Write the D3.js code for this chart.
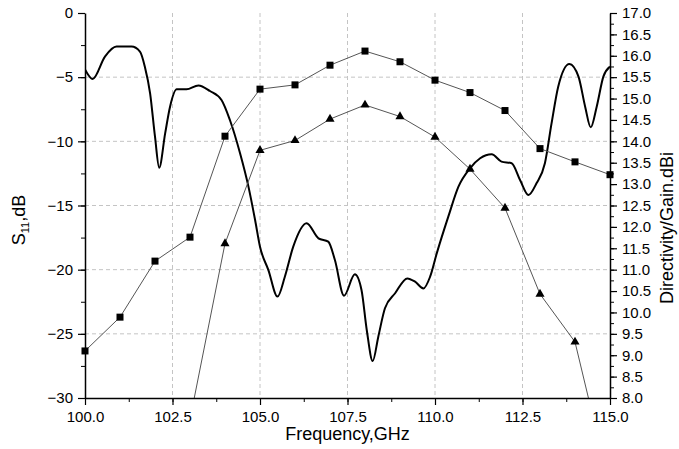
<!DOCTYPE html>
<html>
<head>
<meta charset="utf-8">
<script src="https://cdn.jsdelivr.net/npm/d3@7"></script>
<style>
  body { margin: 0; background: #fff; }
  svg { font-family: "Liberation Sans", Arial, sans-serif; }
</style>
</head>
<body>
<svg width="679" height="449"></svg>
<script>
// S11 curve (freq GHz, dB)
var s11Freq = [100.0, 100.22, 100.57, 100.9, 101.33, 101.57, 101.71, 101.86, 102.0, 102.12, 102.29, 102.43, 102.62, 102.9, 103.24, 103.57,
  103.9, 104.14, 104.43, 104.67, 104.86, 105.0, 105.24, 105.5, 105.71, 105.95, 106.33, 106.67, 106.95, 107.14, 107.4, 107.71, 107.9,
  108.05, 108.22, 108.38, 108.57, 108.86, 109.21, 109.43, 109.67, 109.86, 110.05, 110.38, 110.67, 111.0, 111.29, 111.62, 111.9, 112.19,
  112.43, 112.67, 112.9, 113.14, 113.33, 113.52, 113.84, 114.1, 114.29, 114.45, 114.62, 114.81, 115.0];
var s11Db = [-4.4, -5.14, -3.4, -2.62, -2.62, -3.01, -4.18, -6.26, -9.64, -12.05, -9.38, -7.3, -5.95, -5.95, -5.64, -6.08,
  -6.78, -8.34, -10.93, -13.53, -16.13, -18.21, -20.03, -22.1, -20.55, -18.21, -16.39, -17.56, -17.82, -19.25, -22.03, -20.36, -21.58,
  -24.7, -27.12, -25.22, -23.01, -21.84, -20.68, -20.94, -21.46, -20.55, -18.73, -15.87, -13.53, -12.1, -11.32, -11.01, -11.58, -11.71,
  -13.01, -14.18, -13.27, -11.71, -8.6, -5.74, -3.97, -4.96, -7.3, -8.91, -7.3, -4.96, -4.18];

// directivity (squares) and gain (triangles), dBi, right axis
var gainFreq = [100, 101, 102, 103, 104, 105, 106, 107, 108, 109, 110, 111, 112, 113, 114, 115];
var directivity = [9.1, 9.89, 11.2, 11.76, 14.12, 15.22, 15.32, 15.78, 16.11, 15.86, 15.43, 15.14, 14.72, 13.83, 13.52, 13.22];
var gainFreqT = [103, 104, 105, 106, 107, 108, 109, 110, 111, 112, 113, 114, 115];
var gain = [7.5, 11.61, 13.79, 14.02, 14.52, 14.85, 14.58, 14.1, 13.35, 12.44, 10.43, 9.31, 5.9];

var xTicks = [100, 102.5, 105, 107.5, 110, 112.5, 115];
var yLeftTicks = [0, -5, -10, -15, -20, -25, -30];
var yRightTicks = d3.range(8, 17.01, 0.5);

var svg = d3.select("svg"),
    L = 85, R = 610, T = 13, B = 398;

var x = d3.scaleLinear().domain([100, 115]).range([L, R]);
var yL = d3.scaleLinear().domain([-30, 0]).range([B, T]);
var yR = d3.scaleLinear().domain([8, 17]).range([B, T]);

svg.append("clipPath").attr("id", "plot")
  .append("rect").attr("x", L).attr("y", T).attr("width", R - L).attr("height", B - T);

// grid
var grid = svg.append("g").attr("stroke", "#c4c4c4").attr("stroke-dasharray", "4,3").attr("stroke-width", 1);
[102.5, 105, 107.5, 110, 112.5].forEach(function(v) {
  grid.append("line").attr("x1", x(v)).attr("x2", x(v)).attr("y1", T).attr("y2", B);
});
[-5, -10, -15, -20, -25].forEach(function(v) {
  grid.append("line").attr("x1", L).attr("x2", R).attr("y1", yL(v)).attr("y2", yL(v));
});

// S11
var s11 = s11Freq.map(function(f, i) { return [f, s11Db[i]]; });
svg.append("path")
  .datum(s11)
  .attr("clip-path", "url(#plot)")
  .attr("fill", "none").attr("stroke", "#000").attr("stroke-width", 2)
  .attr("d", d3.line().curve(d3.curveMonotoneX)
    .x(function(d) { return x(d[0]); }).y(function(d) { return yL(d[1]); }));

// directivity / gain lines
function series(fs, vs) { return fs.map(function(f, i) { return [f, vs[i]]; }); }
var dir = series(gainFreq, directivity), gn = series(gainFreqT, gain);
var lin = d3.line().x(function(d) { return x(d[0]); }).y(function(d) { return yR(d[1]); });
[dir, gn].forEach(function(s) {
  svg.append("path").datum(s).attr("clip-path", "url(#plot)")
    .attr("fill", "none").attr("stroke", "#555").attr("stroke-width", 1).attr("d", lin);
});

svg.append("g").selectAll("rect")
  .data(dir.filter(function(d) { return d[1] >= 8; }))
  .enter().append("rect")
  .attr("x", function(d) { return x(d[0]) - 3.5; })
  .attr("y", function(d) { return yR(d[1]) - 3.5; })
  .attr("width", 7).attr("height", 7).attr("fill", "#000");

svg.append("g").selectAll("path")
  .data(gn.filter(function(d) { return d[1] >= 8; }))
  .enter().append("path")
  .attr("transform", function(d) { return "translate(" + x(d[0]) + "," + yR(d[1]) + ")"; })
  .attr("d", d3.symbol().type(d3.symbolTriangle).size(36))
  .attr("fill", "#000");

// axes
function styleAxis(g) {
  g.select(".domain").attr("stroke-width", 1.5);
  g.selectAll(".tick line").attr("stroke-width", 1.2);
  g.selectAll("text").attr("font-size", 15).attr("fill", "#000");
}

svg.append("g").attr("transform", "translate(0," + B + ")")
  .call(d3.axisBottom(x).tickValues(d3.range(100, 115.01, 1.25)).tickSize(4).tickFormat(""))
  .call(function(g) { g.select(".domain").remove(); });
svg.append("g").attr("transform", "translate(0," + B + ")")
  .call(d3.axisBottom(x).tickValues(xTicks).tickSize(7).tickSizeOuter(0).tickPadding(6).tickFormat(d3.format(".1f")))
  .call(styleAxis);

svg.append("g").attr("transform", "translate(" + L + ",0)")
  .call(d3.axisLeft(yL).tickValues(d3.range(-30, 0.01, 2.5)).tickSize(4).tickFormat(""))
  .call(function(g) { g.select(".domain").remove(); });
svg.append("g").attr("transform", "translate(" + L + ",0)")
  .call(d3.axisLeft(yL).tickValues(yLeftTicks).tickSize(7).tickSizeOuter(0).tickPadding(5).tickFormat(d3.format("d")))
  .call(styleAxis);

svg.append("g").attr("transform", "translate(" + R + ",0)")
  .call(d3.axisRight(yR).tickValues(d3.range(8, 17.01, 0.25)).tickSize(4).tickFormat(""))
  .call(function(g) { g.select(".domain").remove(); });
svg.append("g").attr("transform", "translate(" + R + ",0)")
  .call(d3.axisRight(yR).tickValues(yRightTicks).tickSize(7).tickSizeOuter(0).tickPadding(5).tickFormat(d3.format(".1f")))
  .call(styleAxis);

// titles
svg.append("text").attr("x", (L + R) / 2).attr("y", 440).attr("text-anchor", "middle")
  .attr("font-size", 18).text("Frequency,GHz");

var yt = svg.append("text").attr("transform", "translate(25,220) rotate(-90)")
  .attr("text-anchor", "middle").attr("font-size", 18);
yt.append("tspan").text("S");
yt.append("tspan").attr("font-size", 11).attr("dy", 4).text("11");
yt.append("tspan").attr("dy", -4).text(",dB");

svg.append("text").attr("transform", "translate(673,228) rotate(-90)")
  .attr("text-anchor", "middle").attr("font-size", 18).text("Directivity/Gain.dBi");
</script>
</body>
</html>
